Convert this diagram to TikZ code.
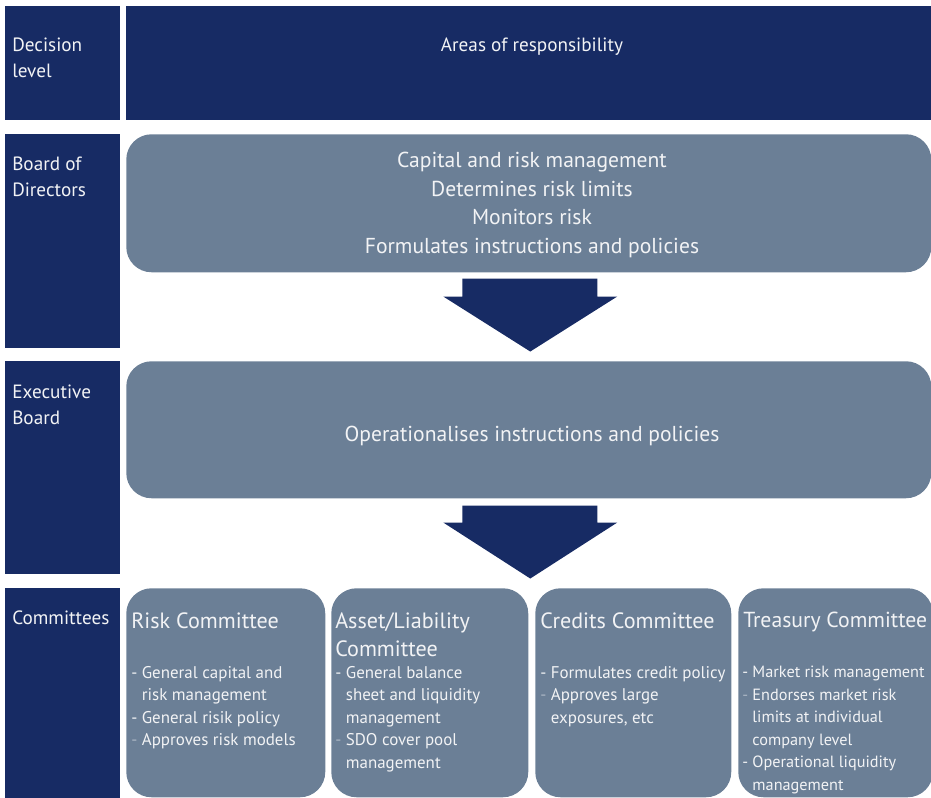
\documentclass[tikz,border=0pt]{standalone}
\usepackage{fontspec}
\setmainfont{PT Sans}
\usetikzlibrary{calc}
\definecolor{navyc}{HTML}{172B64}
\definecolor{slatec}{HTML}{6B7F96}
\definecolor{txtc}{HTML}{F2F3F5}
\definecolor{dimc}{HTML}{A9B5C3}
\newcommand\ind{\phantom{- }}
\newcommand\dd{{\color{dimc}- }}
\begin{document}
\begin{tikzpicture}[x=0.75pt,y=-0.75pt,
  navybox/.style={fill=navyc,draw=none,inner sep=0pt,anchor=north west},
  slatebox/.style={fill=slatec,draw=none,inner sep=0pt,anchor=north west,rounded corners=19pt},
  lbl/.style={text=txtc,inner sep=0pt,anchor=north west,align=left,font=\fontsize{14.4}{19.2}\selectfont},
  big/.style={text=txtc,inner sep=0pt,align=center,font=\fontsize{16.2}{21.4}\selectfont},
  hdrtext/.style={text=txtc,inner sep=0pt,align=center,font=\fontsize{14.4}{19}\selectfont},
  ctitle/.style={text=txtc,inner sep=0pt,anchor=north west,align=left,font=\fontsize{16.6}{21}\selectfont},
  citem/.style={text=txtc,inner sep=0pt,anchor=north west,align=left,font=\fontsize{12.7}{16.9}\selectfont},
  blockarrow/.style={fill=navyc,draw=none}]
\useasboundingbox (0,0) rectangle (931,798);
\clip (0,0) rectangle (931,798);
% left column
\node[navybox,minimum width=86.25pt,minimum height=85.5pt] (lv1) at (5,6) {};
\node[navybox,minimum width=86.25pt,minimum height=160.5pt] (lv2) at (5,134) {};
\node[navybox,minimum width=86.25pt,minimum height=159.75pt] (lv3) at (5,361) {};
\node[navybox,minimum width=86.25pt,minimum height=158pt] (lv4) at (5,588) {};
\node[lbl] (lv1t) at (12,38) {Decision\\level};
\node[lbl] (lv2t) at (12,157) {Board of\\Directors};
\node[lbl] (lv3t) at (12,385) {Executive\\Board};
\node[lbl] (lv4t) at (12,611) {Committees};
% header
\node[navybox,minimum width=603.75pt,minimum height=85.5pt] (hdr) at (126,6) {};
\node[hdrtext] (hdrt) at (532,47) {Areas of responsibility};
% board
\node[slatebox,minimum width=603.75pt,minimum height=103.5pt] (board) at (126,134) {};
\node[big] (boardt) at (532,205) {Capital and risk management\\Determines risk limits\\Monitors risk\\Formulates instructions and policies};
% exec
\node[slatebox,minimum width=603.75pt,minimum height=102.75pt] (exec) at (126,361) {};
\node[big] (exect) at (532,436) {Operationalises instructions and policies};
% arrows
\fill[blockarrow] ($(board.south)+(-66.5,6)$) -- ($(board.south)+(68.5,6)$) -- ($(board.south)+(68.5,24)$) -- ($(board.south)+(88.5,24)$) -- ($(board.south)+(1.5,79)$) -- ($(board.south)+(-85.5,24)$) -- ($(board.south)+(-66.5,24)$) -- cycle;
\fill[blockarrow] ($(exec.south)+(-66.5,7)$) -- ($(exec.south)+(68.5,7)$) -- ($(exec.south)+(68.5,24)$) -- ($(exec.south)+(88.5,24)$) -- ($(exec.south)+(1.5,80)$) -- ($(exec.south)+(-85.5,24)$) -- ($(exec.south)+(-66.5,24)$) -- cycle;
% committees
\node[slatebox,minimum width=149.25pt,minimum height=156.75pt] (rc) at (126,588) {};
\node[slatebox,minimum width=147.75pt,minimum height=156.75pt] (al) at (331,588) {};
\node[slatebox,minimum width=147pt,minimum height=156.75pt] (cc) at (535,588) {};
\node[slatebox,minimum width=146pt,minimum height=156.75pt] (tc) at (738,588) {};
\node[ctitle] (rct) at (131,612) {Risk Committee};
\node[ctitle] (alt) at (335,612) {Asset/Liability\\Committee};
\node[ctitle] (cct) at (540,612) {Credits Committee};
\node[ctitle,font=\fontsize{16.3}{21}\selectfont] (tct) at (743,612) {Treasury Committee};
\node[citem] (rci) at (131,666) {- General capital and\\\ind risk management\\- General risik policy\\\dd Approves risk models};
\node[citem] (ali) at (335,666) {- General balance\\\ind sheet and liquidity\\\ind management\\\dd SDO cover pool\\\ind management};
\node[citem] (cci) at (540,666) {- Formulates credit policy\\\dd Approves large\\\ind exposures, etc};
\node[citem,font=\fontsize{12.2}{16.9}\selectfont] (tci) at (742,666) {- Market risk management\\\dd Endorses market risk\\\ind limits at individual\\\ind company level\\- Operational liquidity\\\ind management};
\end{tikzpicture}
\end{document}
